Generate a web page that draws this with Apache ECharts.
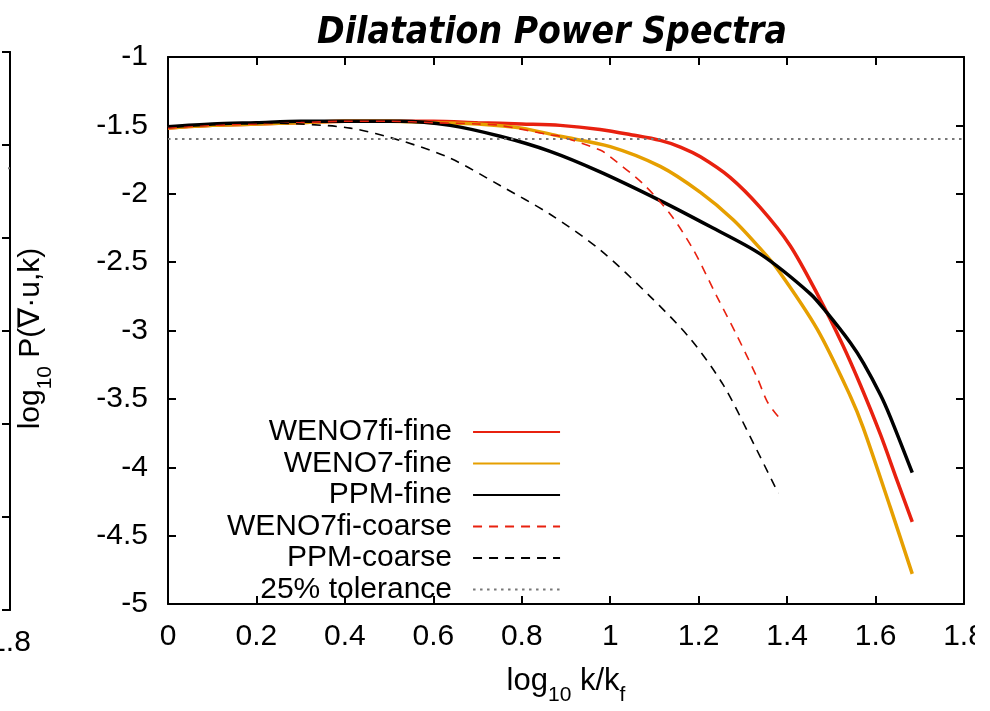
<!DOCTYPE html>
<html>
<head>
<meta charset="utf-8">
<script src="https://cdn.jsdelivr.net/npm/echarts@6/dist/echarts.min.js"></script>
<style>html,body{margin:0;padding:0;background:#fff}#c{width:990px;height:711px}</style>
</head>
<body>
<div id="c"></div>
<script>
// ---- data ----
const xTicks = [0, 0.2, 0.4, 0.6, 0.8, 1, 1.2, 1.4, 1.6, 1.8];
const yTicks = [-5, -4.5, -4, -3.5, -3, -2.5, -2, -1.5, -1];

const wenoFiFineX = [0, 0.1, 0.2, 0.3, 0.4, 0.5, 0.6, 0.7, 0.8, 0.887, 0.977, 1.05, 1.113, 1.16, 1.204, 1.271, 1.339, 1.407, 1.471, 1.525, 1.566, 1.611, 1.649, 1.683];
const wenoFiFineY = [-1.52, -1.50, -1.49, -1.48, -1.47, -1.47, -1.47, -1.48, -1.49, -1.50, -1.53, -1.57, -1.61, -1.66, -1.73, -1.88, -2.10, -2.38, -2.75, -3.10, -3.40, -3.76, -4.10, -4.40];

const wenoFineX = [0, 0.1, 0.2, 0.3, 0.4, 0.5, 0.6, 0.7, 0.8, 0.887, 1.0, 1.113, 1.204, 1.278, 1.339, 1.378, 1.468, 1.543, 1.572, 1.633, 1.683];
const wenoFineY = [-1.52, -1.50, -1.49, -1.48, -1.47, -1.47, -1.48, -1.49, -1.52, -1.58, -1.655, -1.80, -1.99, -2.19, -2.40, -2.55, -2.99, -3.48, -3.71, -4.29, -4.78];

const ppmFineX = [0, 0.1, 0.2, 0.3, 0.4, 0.525, 0.638, 0.751, 0.864, 0.977, 1.113, 1.226, 1.339, 1.452, 1.49, 1.543, 1.573, 1.611, 1.633, 1.683];
const ppmFineY = [-1.51, -1.49, -1.48, -1.47, -1.47, -1.47, -1.50, -1.58, -1.69, -1.84, -2.05, -2.24, -2.44, -2.73, -2.87, -3.09, -3.24, -3.47, -3.63, -4.04];

const wenoFiCoarseX = [0, 0.1, 0.2, 0.3, 0.4, 0.5, 0.6, 0.7, 0.751, 0.864, 0.887, 0.977, 1.0, 1.075, 1.136, 1.188, 1.241, 1.287, 1.333, 1.355, 1.38];
const wenoFiCoarseY = [-1.52, -1.50, -1.49, -1.48, -1.47, -1.47, -1.48, -1.49, -1.50, -1.57, -1.58, -1.68, -1.73, -1.93, -2.15, -2.41, -2.75, -3.04, -3.35, -3.52, -3.63];

const ppmCoarseX = [0, 0.1, 0.2, 0.299, 0.412, 0.525, 0.638, 0.751, 0.864, 0.977, 1.09, 1.181, 1.256, 1.317, 1.38];
const ppmCoarseY = [-1.51, -1.49, -1.48, -1.49, -1.52, -1.61, -1.74, -1.94, -2.15, -2.41, -2.75, -3.06, -3.40, -3.78, -4.19];

const toleranceX = [0, 1.8];
const toleranceY = [-1.6, -1.6];

// neighbouring (cropped) panel on the left: only its right edge is visible
const leftPanelTolX = [1.7, 1.8];
const leftPanelTolY = [4.75, 4.75];

const seriesNames = ['WENO7fi-fine', 'WENO7-fine', 'PPM-fine', 'WENO7fi-coarse', 'PPM-coarse', '25% tolerance'];

function zip(xs, ys) { return xs.map((x, i) => [x, ys[i]]); }

const FONT = '"Liberation Sans", Arial, Helvetica, sans-serif';
const RED = '#e8210f', ORANGE = '#e69f00', BLACK = '#000000';
const TITLE = 'Dilatation Power Spectra';

// pick a condensed face for the title if one is installed, and size it to the reference width
function pickTitleFont() {
  const ctx = document.createElement('canvas').getContext('2d');
  const cands = ['"Liberation Sans Narrow"', '"DejaVu Sans Condensed"', '"Arial Narrow"', '"Liberation Sans"'];
  const measure = (fam) => { ctx.font = 'italic bold 48px ' + fam; return ctx.measureText(TITLE).width; };
  const ref1 = measure('monospace');
  for (const c of cands) {
    const w = measure(c + ', monospace');
    if (Math.abs(w - ref1) > 0.5) {
      return {family: c + ', ' + FONT, size: Math.min(50, 48 * 470 / w)};
    }
  }
  const w = measure(FONT);
  return {family: FONT, size: 48 * 470 / w};
}
const tf = pickTitleFont();

const chart = echarts.init(document.getElementById('c'), null, {renderer: 'canvas'});

const axisLine = {show: true, onZero: false, lineStyle: {color: '#000', width: 2}};
const tickIn = {show: true, inside: true, length: 8, lineStyle: {color: '#000', width: 2}};
const labelFmt = v => String(+v.toFixed(1));

const option = {
  backgroundColor: '#fff',
  animation: false,
  title: {
    text: TITLE,
    left: 547, top: 47 - tf.size, textAlign: 'center',
    textStyle: {fontFamily: tf.family, fontStyle: 'italic', fontWeight: 'bold', fontSize: tf.size, color: '#000'}
  },
  grid: [
    {left: 168, right: 26, top: 57, bottom: 98, containLabel: false},
    {left: 0, right: 982, top: 52, bottom: 101, containLabel: false}
  ],
  legend: {
    orient: 'vertical', left: 227, top: 417, padding: 0,
    align: 'right', itemWidth: 87, itemHeight: 30, itemGap: 1.5,
    data: seriesNames,
    itemStyle: {opacity: 0, borderWidth: 0},
    textStyle: {fontFamily: FONT, fontSize: 30, color: '#000', width: 190, align: 'right', padding: [0, 16, 0, 0]}
  },
  xAxis: [
    {type: 'value', gridIndex: 0, position: 'bottom', min: 0, max: 1.8, interval: 0.2,
     name: '{a|log}{s|10}{a| k/k}{t|f}', nameLocation: 'middle', nameGap: 62,
     nameTextStyle: {rich: {
       a: {fontFamily: FONT, fontSize: 31, color: '#000', lineHeight: 40, verticalAlign: 'top'},
       s: {fontFamily: FONT, fontSize: 21, color: '#000', lineHeight: 40, verticalAlign: 'bottom'},
       t: {fontFamily: FONT, fontSize: 21, color: '#000', lineHeight: 40, verticalAlign: 'bottom'}}},
     axisLine: axisLine, axisTick: tickIn, splitLine: {show: false},
     axisLabel: {fontFamily: FONT, fontSize: 30, color: '#000', margin: 18, formatter: labelFmt}},
    {type: 'value', gridIndex: 0, position: 'top', min: 0, max: 1.8, interval: 0.2,
     axisLine: axisLine, axisTick: tickIn, axisLabel: {show: false}, splitLine: {show: false}},
    {type: 'value', gridIndex: 1, position: 'bottom', min: 1.7, max: 1.8, interval: 0.1,
     axisLine: axisLine, axisTick: {show: false}, splitLine: {show: false},
     axisLabel: {fontFamily: FONT, fontSize: 30, color: '#000', margin: 18, showMinLabel: false, formatter: labelFmt}},
    {type: 'value', gridIndex: 1, position: 'top', min: 1.7, max: 1.8, interval: 0.1,
     axisLine: axisLine, axisTick: {show: false}, axisLabel: {show: false}, splitLine: {show: false}}
  ],
  yAxis: [
    {type: 'value', gridIndex: 0, position: 'left', min: -5, max: -1, interval: 0.5,
     name: '{a|log}{s|10}{a| P(∇·u,k)}', nameLocation: 'middle', nameGap: 112, nameRotate: 90,
     nameTextStyle: {padding: [0, 16, 0, 0], rich: {
       a: {fontFamily: FONT, fontSize: 30, color: '#000', lineHeight: 40, verticalAlign: 'top'},
       s: {fontFamily: FONT, fontSize: 21, color: '#000', lineHeight: 40, verticalAlign: 'bottom'}}},
     axisLine: axisLine, axisTick: tickIn, splitLine: {show: false},
     axisLabel: {fontFamily: FONT, fontSize: 30, color: '#000', margin: 20}},
    {type: 'value', gridIndex: 0, position: 'right', min: -5, max: -1, interval: 0.5,
     axisLine: axisLine, axisTick: tickIn, axisLabel: {show: false}, splitLine: {show: false}},
    {type: 'value', gridIndex: 1, position: 'left', min: 0, max: 6, interval: 1,
     axisLine: {show: false}, axisTick: {show: false}, axisLabel: {show: false}, splitLine: {show: false}},
    {type: 'value', gridIndex: 1, position: 'right', min: 0, max: 6, interval: 1,
     axisLine: axisLine, axisTick: tickIn, axisLabel: {show: false}, splitLine: {show: false}}
  ],
  series: [
    {name: seriesNames[0], type: 'line', xAxisIndex: 0, yAxisIndex: 0, data: zip(wenoFiFineX, wenoFiFineY),
     smooth: 0.3, showSymbol: false, symbol: 'none', color: RED, lineStyle: {color: RED, width: 3.5}},
    {name: seriesNames[1], type: 'line', xAxisIndex: 0, yAxisIndex: 0, data: zip(wenoFineX, wenoFineY),
     smooth: 0.3, showSymbol: false, symbol: 'none', color: ORANGE, lineStyle: {color: ORANGE, width: 3.5}},
    {name: seriesNames[2], type: 'line', xAxisIndex: 0, yAxisIndex: 0, data: zip(ppmFineX, ppmFineY),
     smooth: 0.3, showSymbol: false, symbol: 'none', color: BLACK, lineStyle: {color: BLACK, width: 3.5}},
    {name: seriesNames[3], type: 'line', xAxisIndex: 0, yAxisIndex: 0, data: zip(wenoFiCoarseX, wenoFiCoarseY),
     smooth: 0.3, showSymbol: false, symbol: 'none', color: RED, lineStyle: {color: RED, width: 1.6, type: [9, 7]}},
    {name: seriesNames[4], type: 'line', xAxisIndex: 0, yAxisIndex: 0, data: zip(ppmCoarseX, ppmCoarseY),
     smooth: 0.3, showSymbol: false, symbol: 'none', color: BLACK, lineStyle: {color: BLACK, width: 1.6, type: [9, 7]}},
    {name: seriesNames[5], type: 'line', xAxisIndex: 0, yAxisIndex: 0, data: zip(toleranceX, toleranceY),
     showSymbol: false, symbol: 'none', color: '#777', lineStyle: {color: '#777', width: 2, type: [2.5, 4.5]}},
    {name: 'left-panel-tolerance', type: 'line', xAxisIndex: 2, yAxisIndex: 2, data: zip(leftPanelTolX, leftPanelTolY),
     showSymbol: false, symbol: 'none', color: '#777', lineStyle: {color: '#777', width: 2, type: [2.5, 4.5]}}
  ],
  graphic: [
    {type: 'rect', shape: {x: 975, y: 620, width: 15, height: 50}, style: {fill: '#fff'}, z: 100}
  ]
};
chart.setOption(option);
</script>
</body>
</html>
